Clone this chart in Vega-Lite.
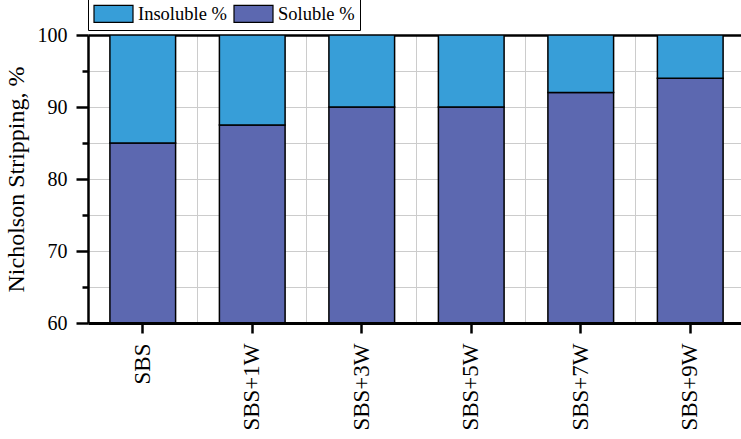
{
  "$schema": "https://vega.github.io/schema/vega-lite/v6.json",
  "width": 653,
  "height": 288,
  "autosize": {"type": "none"},
  "padding": {"left": 88, "top": 35, "right": 0, "bottom": 116},
  "background": "white",
  "config": {
    "view": {"stroke": null},
    "font": "Liberation Serif",
    "axis": {"labelFont": "Liberation Serif", "titleFont": "Liberation Serif", "labelColor": "black", "titleColor": "black", "titleFontWeight": "normal"}
  },
  "data": {
    "values": [
      {"sample": "SBS", "part": "Soluble %", "pct": 85},
      {"sample": "SBS", "part": "Insoluble %", "pct": 15},
      {"sample": "SBS+1W", "part": "Soluble %", "pct": 87.5},
      {"sample": "SBS+1W", "part": "Insoluble %", "pct": 12.5},
      {"sample": "SBS+3W", "part": "Soluble %", "pct": 90},
      {"sample": "SBS+3W", "part": "Insoluble %", "pct": 10},
      {"sample": "SBS+5W", "part": "Soluble %", "pct": 90},
      {"sample": "SBS+5W", "part": "Insoluble %", "pct": 10},
      {"sample": "SBS+7W", "part": "Soluble %", "pct": 92},
      {"sample": "SBS+7W", "part": "Insoluble %", "pct": 8},
      {"sample": "SBS+9W", "part": "Soluble %", "pct": 94},
      {"sample": "SBS+9W", "part": "Insoluble %", "pct": 6}
    ]
  },
  "layer": [
    {
      "mark": {"type": "bar", "opacity": 0},
      "encoding": {
        "x": {
          "field": "sample",
          "type": "nominal",
          "sort": null,
          "scale": {"type": "band", "range": [0, 657], "paddingInner": 0.4, "paddingOuter": 0.2},
          "axis": {
            "orient": "top",
            "title": null,
            "labels": false,
            "ticks": false,
            "grid": true,
            "bandPosition": 1.3333,
            "gridColor": "#cccccc",
            "gridWidth": 1,
            "domainColor": "black",
            "domainWidth": 2.5
          }
        }
      }
    },
    {
      "mark": {"type": "bar", "stroke": "black", "strokeWidth": 1.5, "clip": true},
      "encoding": {
        "x": {
          "field": "sample",
          "type": "nominal",
          "sort": null,
          "axis": {
            "title": null,
            "grid": false,
            "labelAngle": 270,
            "labelFontSize": 23,
            "labelPadding": 10,
            "tickSize": 10,
            "tickWidth": 2.5,
            "tickColor": "black",
            "domainColor": "black",
            "domainWidth": 3,
            "zindex": 1
          }
        },
        "y": {
          "field": "pct",
          "type": "quantitative",
          "stack": "zero",
          "scale": {"domain": [60, 100], "nice": false, "zero": false},
          "axis": {
            "title": "Nicholson Stripping, %",
            "titleFontSize": 24,
            "titlePadding": 9,
            "values": [60, 65, 70, 75, 80, 85, 90, 95, 100],
            "labelExpr": "datum.value % 10 === 0 ? datum.label : ''",
            "labelFontSize": 20,
            "labelPadding": 9,
            "tickSize": {"condition": {"test": "datum.value % 10 === 0", "value": 12}, "value": 6},
            "tickWidth": 2.5,
            "tickColor": "black",
            "domainColor": "black",
            "domainWidth": 2.5,
            "grid": true,
            "gridColor": "#cccccc",
            "gridWidth": 1
          }
        },
        "color": {
          "field": "part",
          "type": "nominal",
          "scale": {"domain": ["Insoluble %", "Soluble %"], "range": ["#379ED8", "#5C68B0"]},
          "legend": {
            "title": null,
            "orient": "none",
            "legendX": 0,
            "legendY": -47,
            "direction": "horizontal",
            "strokeColor": "black",
            "fillColor": "white",
            "padding": 5,
            "symbolType": "M-1,-0.436L1,-0.436L1,0.436L-1,0.436Z",
            "symbolSize": 1521,
            "symbolStrokeColor": "black",
            "symbolStrokeWidth": 1.2,
            "labelFont": "Liberation Serif",
            "labelFontSize": 18.5,
            "labelColor": "black",
            "labelOffset": 4,
            "columnPadding": 4,
            "labelLimit": 0
          }
        },
        "order": {"field": "part", "sort": "descending"}
      }
    }
  ],
  "resolve": {"axis": {"x": "independent"}}
}
